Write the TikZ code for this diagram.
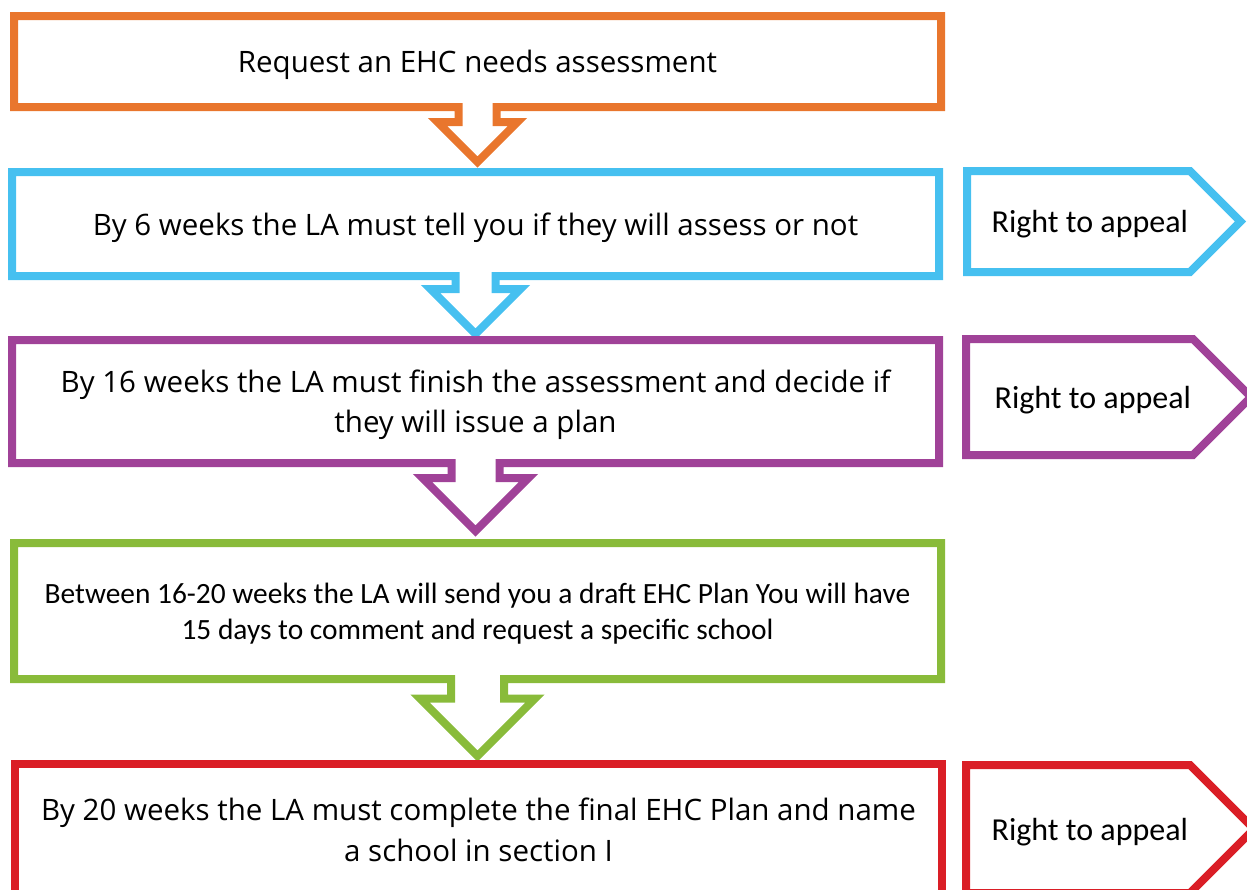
\documentclass[tikz,border=0pt]{standalone}
\usepackage{fontspec}
\setmainfont{Open Sans}
\newfontfamily\calibri{Carlito}
\usetikzlibrary{shapes.arrows}
\usetikzlibrary{shapes.symbols}

\definecolor{ehcorange}{RGB}{233,118,45}
\definecolor{ehcblue}{RGB}{70,192,240}
\definecolor{ehcpurple}{RGB}{160,66,152}
\definecolor{ehcgreen}{RGB}{137,187,58}
\definecolor{ehcred}{RGB}{218,30,38}

\tikzset{
  stagebox/.style={arrow box,draw=#1,line width=8pt,inner sep=0pt,
    minimum width=927pt,align=center,arrow box tip angle=90,text depth=-2pt,
    font=\fontsize{29.5}{40}\selectfont},
  appealbox/.style={signal,signal to=east,signal pointer angle=90,
    draw=#1,line width=8pt,inner ysep=0pt,inner xsep=2pt,align=flush right,
    text depth=0pt,font=\calibri\fontsize{32}{36}\selectfont}
}

\begin{document}
\begin{tikzpicture}[x=1pt,y=-1pt]
      % ここまでをバウンディングボックス内とする
      \useasboundingbox (0,0) rectangle (1247,889);

      \node[stagebox=ehcorange,minimum height=91pt,%
        arrow box arrows={south:51pt},%
        arrow box shaft width=38pt,arrow box head extend=21pt] (request) at (477.5,61.5){%
        Request an EHC needs assessment};
      \node[stagebox=ehcblue,minimum height=104pt,%
        arrow box arrows={south:54pt},%
        arrow box shaft width=40pt,arrow box head extend=25pt] (decide) at (475.5,224){%
        By 6 weeks the LA must tell you if they will assess or not};
      \node[stagebox=ehcpurple,minimum height=123pt,%
        arrow box arrows={south:64pt},%
        arrow box shaft width=48pt,arrow box head extend=29pt] (assess) at (475.5,401.5){%
        By 16 weeks the LA must finish the assessment and decide if\\
        they will issue a plan};
      \node[stagebox=ehcgreen,minimum height=136pt,%
        arrow box arrows={south:73pt},%
        arrow box shaft width=53pt,arrow box head extend=31pt,%
        font=\calibri\fontsize{29.4}{36}\selectfont] (draft) at (477.5,611){%
        Between 16-20 weeks the LA will send you a draft EHC Plan You will have\\
        15 days to comment and request a specific school};
      \node[draw=ehcred,line width=8pt,inner sep=0pt,minimum width=927pt,%
        minimum height=132pt,align=center,%
        font=\fontsize{29.5}{41}\selectfont] (final) at (478.5,830){%
        By 20 weeks the LA must complete the final EHC Plan and name\\
        a school in section I};

      % 右側の矢羽根
      \node[appealbox=ehcblue,minimum height=101pt,text width=219pt] (appeal1)
        at (1078.5,221.5){Right to appeal};
      \node[appealbox=ehcpurple,minimum height=116pt,text width=223pt] (appeal2)
        at (1079.5,397){Right to appeal};
      \node[appealbox=ehcred,minimum height=128pt,text width=220pt] (appeal3)
        at (1078,829){Right to appeal};
    \end{tikzpicture}
\end{document}
